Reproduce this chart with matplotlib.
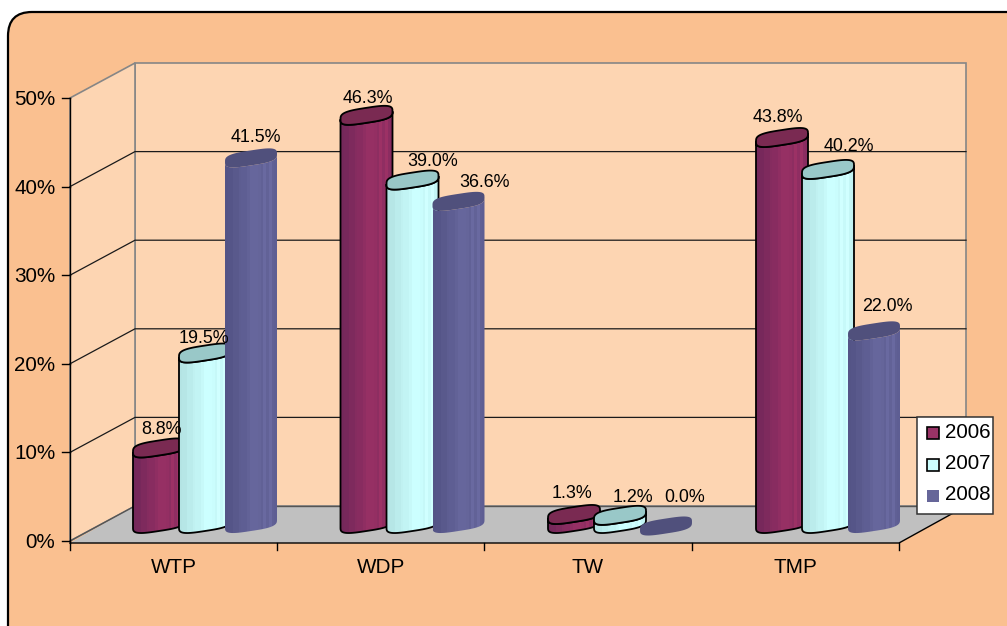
import numpy as np
import matplotlib
matplotlib.use('Agg')
import matplotlib.pyplot as plt
from matplotlib.patches import FancyBboxPatch, Polygon, PathPatch, Rectangle
from matplotlib.path import Path
from matplotlib.colors import to_rgb

plt.rcParams['font.family'] = ['Liberation Sans', 'DejaVu Sans']

# data
categories = ['WTP', 'WDP', 'TW', 'TMP']
years = ['2006', '2007', '2008']
v2006 = [8.8, 46.3, 1.3, 43.8]
v2007 = [19.5, 39.0, 1.2, 40.2]
v2008 = [41.5, 36.6, 0.0, 22.0]
y_ticks = [0, 10, 20, 30, 40, 50]

# colours per series
dark = ['#74285a', '#b4e4e4', '#545486']
light = ['#963064', '#ccffff', '#66669c']
top_col = ['#7a2a52', '#99c8c8', '#50507c']
edge = ['black', 'black', 'none']
legend_col = ['#993366', '#ccffff', '#666699']

# label nudges from the bar centre, per series then per category
label_dx = [[3, 1, -2, -4], [-1, 20, 13, 21], [5, 26, 19, 13]]
label_dy = [[-18, -17, -21, -20], [-15, -19, -18, -23], [-20, -19, -28, -24]]

# geometry in pixels of the picture
Y0, Y50 = 541, 98
DX, DY = 65, -35
BAR0, BAR_SLOPE = 526, 8.87
BAR_FOOT = 523.5
GROUP_X = [133, 340.5, 548, 756]
STEP = 46
HALF = 26


def tick_y(v):
    return Y0 + (Y50 - Y0) * v / 50


def bar_y(v):
    return BAR0 - BAR_SLOPE * v


def pill(cx, cy, t0=0, t1=2 * np.pi, n=60):
    t = np.linspace(t0, t1, n)
    c, s = np.cos(t), np.sin(t)
    a = np.sign(c) * np.abs(c) ** 0.6
    b = np.sign(s) * np.abs(s) ** 0.6
    return np.column_stack([cx + HALF * a, cy - 4 * a + 7.5 * b])


fig = plt.figure(figsize=(10.07, 6.26), dpi=100)
ax = fig.add_axes([0, 0, 1, 1])
ax.set_xlim(0, 1007)
ax.set_ylim(626, 0)
ax.axis('off')

# panel
ax.add_patch(FancyBboxPatch((8, 12), 1040, 660, boxstyle='round,pad=0,rounding_size=24',
                            fc='#fac090', ec='black', lw=1.6))

# walls and floor
back_l, back_r = 70 + DX, 966
back_top, back_bot = tick_y(50) + DY, tick_y(0) + DY
ax.add_patch(Rectangle((back_l, back_top), back_r - back_l, back_bot - back_top,
                       fc='#fdd5b2', ec='#868686', lw=1.2))
ax.add_patch(Polygon([(70, tick_y(50)), (back_l, back_top), (back_l, back_bot), (70, tick_y(0))],
                     fc='#fdd5b2', ec='#868686', lw=1.2))
ax.add_patch(Polygon([(70, tick_y(0) + 2), (back_l, back_bot), (back_r, back_bot), (899, tick_y(0) + 2)],
                     fc='#c0c0c0', ec='none'))
ax.plot([back_l, back_r], [back_bot, back_bot], color='#555555', lw=1)
ax.plot([back_l, 70], [back_bot, tick_y(0)], color='#555555', lw=1)

# gridlines
for v in y_ticks[1:-1]:
    y = tick_y(v)
    ax.plot([70, back_l, back_r], [y, y + DY, y + DY], color='#1a1a1a', lw=0.9)

# axis lines and ticks
ax.plot([70, 70], [tick_y(50), tick_y(0) + 2], color='black', lw=1)
ax.plot([70, 899, back_r], [tick_y(0) + 2, tick_y(0) + 2, back_bot], color='black', lw=1)
for v in y_ticks:
    ax.plot([62, 70], [tick_y(v), tick_y(v)], color='black', lw=1)
    ax.text(55.5, tick_y(v) + 1.5, f'{v}%', ha='right', va='center', fontsize=14.9)
for i in range(5):
    x = 70 + i * 207.2
    ax.plot([x, x], [tick_y(0) + 2, 550], color='black', lw=1)
for i, cat in enumerate(categories):
    ax.text(70 + (i + 0.5) * 207.2, 567.5, cat, ha='center', va='center', fontsize=14.9)

# bars, back series first so the later ones overlap
series = [v2006, v2007, v2008]
for s, values in enumerate(series):
    for i, v in enumerate(values):
        left = GROUP_X[i] + s * STEP
        cx = left + HALF
        yt, yb = bar_y(v), BAR_FOOT
        d, l = np.array(to_rgb(dark[s])), np.array(to_rgb(light[s]))
        if v > 0:
            low = pill(cx, yb, 0, np.pi)
            up = pill(cx, yt, np.pi, 0)
            body = np.vstack([low, up, low[:1]])
            shape = PathPatch(Path(body), fc='none', ec='none')
            ax.add_patch(shape)
            # vertical facets
            mix = np.array([0, .1, .1, .3, .3, .5, .6, .6, .8, 1, 1, 1, .95, .75, 1.2, .8, 1.2, .7, .6])
            strip = (d[None, :] + mix[:, None] * (l - d)[None, :]).clip(0, 1)[None, :, :]
            im = ax.imshow(strip, extent=(cx - HALF, cx + HALF, yb + 12, yt - 12),
                           aspect='auto', interpolation='nearest', zorder=2 + s)
            im.set_clip_path(shape)
            ax.add_patch(PathPatch(Path(body), fc='none', ec=edge[s], lw=1.3, zorder=2 + s))
        ax.add_patch(Polygon(pill(cx, yt), closed=True, fc=top_col[s], ec=edge[s], lw=1.3, zorder=2 + s))
        ax.text(cx + label_dx[s][i], yt + label_dy[s][i], f'{v:.1f}%', ha='center', va='center',
                fontsize=12.9, zorder=6)

ax.set_xlim(0, 1007)
ax.set_ylim(626, 0)

# legend
ax.add_patch(Rectangle((917, 417), 76, 97, fc='white', ec='#333333', lw=1.1, zorder=7))
for s, yr in enumerate(years):
    y = 433 + s * 31.5
    ax.add_patch(Rectangle((927, y - 6), 12, 12, fc=legend_col[s], ec=edge[s], lw=1.2, zorder=8))
    ax.text(945, y - 1, yr, ha='left', va='center', fontsize=14.9, zorder=8)

fig.savefig('out.png', dpi=100)
